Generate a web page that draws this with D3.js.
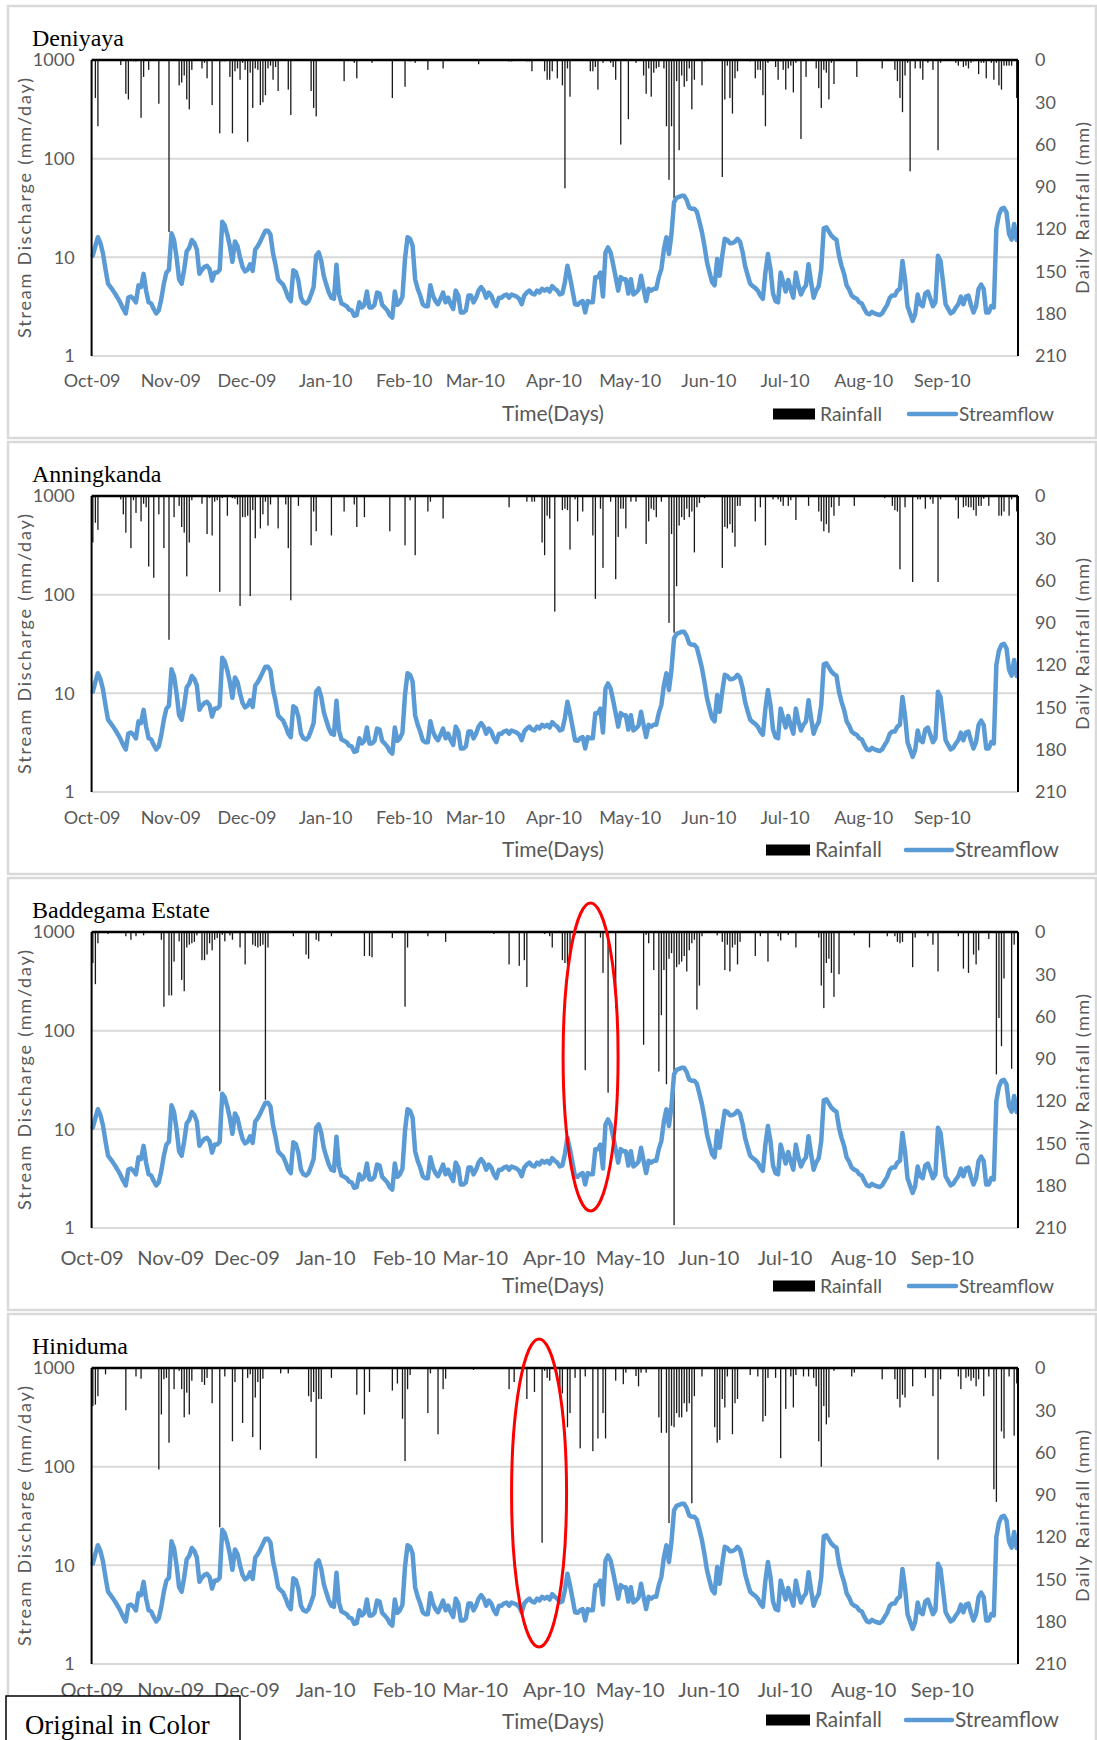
<!DOCTYPE html>
<html>
<head>
<meta charset="utf-8">
<script src="https://cdn.jsdelivr.net/npm/d3@7"></script>
<style>
  body { margin: 0; background: #fff; }
  svg { display: block; }
</style>
</head>
<body>
<svg id="chart" width="1097" height="1740"></svg>
<script>
// ---- data ---------------------------------------------------------------
const stations = ["Deniyaya", "Anningkanda", "Baddegama Estate", "Hiniduma"];
const monthLabels = ["Oct-09","Nov-09","Dec-09","Jan-10","Feb-10","Mar-10","Apr-10","May-10","Jun-10","Jul-10","Aug-10","Sep-10"];
const flowTicks = [1, 10, 100, 1000];
const rainTicks = [0, 30, 60, 90, 120, 150, 180, 210];

// daily stream discharge (mm/day), 1 Oct 2009 - 30 Sep 2010
const streamflow = [
  10.4,13,16,14,11,7.6,5.4,5.0,4.6,4.2,3.8,3.4,3.0,2.7,3.9,4.0,3.8,3.5,5.2,5.0,
  6.8,4.6,3.5,3.4,3.0,2.7,2.9,3.8,5.4,7.0,7.5,17.5,15,10,6.0,5.4,7.5,11.5,12.5,15,
  14,12,6.8,7.5,8.0,8.2,7.6,5.8,7.0,7.0,7.5,23,21,17,13,9,14.5,13,10,8,
  7.2,7.5,8.5,7.3,12,13,14.5,16.5,18.6,18.6,17,11,8.4,6.0,5.6,5.3,4.6,3.9,3.6,7.4,
  7.1,5.8,3.9,3.5,3.4,3.6,4.2,5.0,10.4,11.2,9.2,6.5,5.3,4.4,3.9,3.8,8.4,4.2,3.4,3.3,
  3.2,2.95,2.9,2.55,2.6,3.5,3.1,3.3,4.5,3.1,3.1,3.3,4.4,4.3,3.3,3.1,2.9,2.6,2.45,4.5,
  3.3,3.5,4.0,9.6,16,15.4,13.1,6.0,4.8,4.1,3.35,3.2,3.2,5.2,4.1,3.6,3.35,3.8,4.4,3.5,
  3.9,3.35,3.0,4.6,4.1,2.76,2.76,2.9,4.1,4.1,3.5,3.9,4.6,5.0,4.6,3.9,4.4,4.1,3.5,3.2,
  3.9,3.9,4.1,4.2,3.9,4.2,4.1,4.0,3.8,3.35,4.1,4.4,4.6,4.3,4.2,4.6,4.4,4.8,4.6,4.8,
  4.5,5.1,4.8,4.6,4.2,4.3,5.6,8.2,6.3,4.6,3.35,3.3,3.5,3.6,2.76,3.6,3.5,3.5,6.3,6.3,
  7.0,4.0,11.2,12.6,11.2,8.5,6.3,4.6,6.3,6.0,6.0,4.3,6.0,4.2,4.4,4.7,6.5,4.8,3.6,4.8,
  4.6,4.8,4.8,6.3,7.6,12,16,10.8,17.3,36,40,41,42,42,38,32,31,31,29,23,
  18,13,8.9,7.0,5.6,5.2,9.6,6.5,10.4,15.4,15,13.9,14,14.4,15.4,14.4,11.4,8.2,6.6,5.4,
  5.1,4.9,4.6,4.1,3.8,7.0,10.8,7.6,4.3,3.6,3.5,7.0,5.6,4.5,5.9,4.7,3.9,7.0,5.2,4.2,
  4.8,5.2,8.5,5.6,3.9,4.6,5.1,7.6,19.7,20.2,18.3,16.6,15.7,15.1,10.4,8.2,6.8,5.2,4.7,4.1,
  3.9,3.8,3.5,3.4,3.0,2.7,2.65,2.8,2.7,2.65,2.6,2.7,3.0,3.3,3.9,4.1,4.1,4.6,4.8,9.2,
  6.0,3.2,2.7,2.27,2.65,4.2,3.35,3.2,4.3,4.5,3.8,3.2,3.5,10.4,9.2,5.6,3.35,3.0,2.7,2.8,
  3.1,3.35,4.0,3.35,4.0,4.1,3.3,2.76,3.2,4.8,5.3,4.8,2.76,2.76,3.2,3.1,19.4,26.9,31,31.7,
  28.6,17.3,15.1,21.8,15
];

// daily rainfall (mm) as [day index from 1 Oct 2009, amount]; other days are dry
const rainDeniyaya = [
  [1,27],[2,47],[11,3.6],[13,24],[14,28],[16,1],[17,1],[19,41],[20,12],[22,7],[26,31],[30,122],
  [34,18],[35,16],[36,11],[37,28],[38,35],[39,7],[43,6],[44,2],[45,13],[47,32],[50,52],[51,1],
  [52,1],[54,12],[55,52],[56,8],[57,6],[58,14],[59,2],[60,7],[61,58],[62,9],[63,34],[64,6],
  [65,7],[66,32],[67,30],[68,25],[69,6],[70,4],[71,14],[72,5],[73,22],[77,21],[78,39],[86,22],
  [87,34],[88,40],[99,15],[103,2],[104,13],[110,2],[118,27],[123,19],[125,1],[127,2],[132,7],
  [138,6],[152,3],[164,1],[165,1],[171,1],[172,1],[173,8],[178,8],[179,14],[180,14],[181,8],
  [183,13],[185,18],[186,91],[187,6],[188,26],[196,8],[197,8],[198,5],[199,21],[201,2],[204,2],
  [205,5],[206,14],[208,60],[211,42],[214,2],[217,11],[218,24],[219,6],[220,26],[221,9],[222,6],
  [223,5],[225,6],[226,47],[227,85],[228,47],[229,98],[230,15],[231,64],[232,11],[233,19],
  [234,15],[235,6],[236,35],[237,14],[240,18],[241,1],[248,83],[249,28],[250,4],[251,27],
  [252,38],[253,13],[254,8],[259,1],[261,13],[262,7],[263,7],[264,25],[265,47],[266,2],[269,5],
  [270,14],[271,1],[272,7],[273,21],[274,6],[275,4],[276,23],[277,2],[279,56],[281,12],[285,6],
  [286,20],[287,34],[288,7],[289,9],[290,28],[291,2],[292,17],[301,12],[311,6],[316,7],[317,15],
  [318,27],[319,37],[320,11],[321,2],[322,79],[324,6],[326,6],[327,14],[329,2],[331,7],[333,64],
  [334,2],[340,2],[341,4],[342,1],[343,5],[344,4],[345,6],[346,2],[347,1],[349,10],[350,2],
  [351,2],[352,13],[354,2],[355,14],[356,2],[357,18],[358,21],[359,4],[360,4],[361,4],[362,4],
  [364,27]
];
const rainAnningkanda = [
  [0,33],[1,19],[2,24],[11,2.4],[12,13],[13,26],[15,37],[16,3],[17,12],[19,18],[20,5.5],[21,8],
  [22,50],[24,58],[26,13],[28,37],[30,102],[32,15],[34,7],[35,22],[36,26],[37,57],[38,33],[39,3],
  [43,5.5],[45,27],[46,1.5],[47,28],[48,4],[49,3],[50,68],[51,1.5],[53,14],[55,1.5],[56,2],
  [57,6],[58,78],[59,15],[60,15],[61,14],[62,71],[63,10],[64,30],[66,23],[67,13],[68,4],[69,21],
  [70,6],[73,23],[76,6],[77,37],[78,74],[81,7],[86,35],[87,11],[88,25],[94,28],[99,11],[103,6],
  [104,22],[107,15],[117,25],[123,35],[125,3],[127,42],[132,11],[133,4],[138,16],[164,8],[171,4],
  [173,4],[174,4],[177,33],[178,42],[179,14],[180,16],[182,82],[185,10],[186,9],[187,10],
  [188,38],[190,2.4],[191,18],[193,11],[197,28],[198,73],[200,9],[201,51],[204,4],[206,59],
  [207,29],[208,9],[209,9],[210,23],[212,4],[214,4],[218,34],[219,18],[220,9],[221,10],[222,15],
  [224,4],[227,90],[228,27],[229,97],[230,64],[231,21],[232,15],[233,17],[234,9],[235,15],
  [236,11],[237,40],[238,8],[239,5],[241,1.5],[248,51],[249,22],[250,23],[251,20],[252,26],
  [253,36],[254,7],[255,7],[261,18],[263,8],[265,35],[268,2.4],[270,2.4],[271,4],[272,7],[274,7],
  [275,3],[277,17],[282,7],[286,11],[287,18],[288,25],[289,20],[290,26],[291,8],[292,14],[294,7],
  [300,7],[312,1.5],[315,7],[316,10],[317,11],[318,52],[320,8],[323,61],[325,2.4],[326,2.4],
  [328,9],[330,2.4],[331,5.5],[333,61],[334,2.4],[340,3],[341,16],[343,8],[344,7],[345,8],
  [346,8],[347,10],[348,14],[349,7],[350,7],[351,2],[353,7],[357,14],[358,14],[359,11],[361,14],
  [362,2.4],[364,11]
];
const rainBaddegama = [
  [0,22],[1,37],[2,8],[6,1.4],[13,3],[15,5.5],[17,3],[20,2.4],[27,5.5],[28,53],[30,45],[31,45],
  [32,21],[34,6.6],[35,34],[36,42],[37,11],[38,9],[39,8],[40,7],[41,2.4],[43,20],[44,20],[45,16],
  [46,8],[47,13],[48,5.5],[49,4.3],[50,113],[51,2],[52,6.6],[54,2.4],[55,5.5],[58,11],[60,23],
  [63,9],[64,10],[65,11],[66,10],[67,9],[68,119],[69,11],[79,3],[84,16],[85,19],[88,5.5],
  [89,6.6],[94,3],[107,17],[109,17],[110,18],[118,4.3],[123,53],[124,11],[132,3],[139,7],
  [158,1.4],[164,23],[168,24],[170,20],[171,39],[178,1.4],[180,3],[181,11],[185,20],[186,22],
  [187,23],[188,16],[190,2],[194,98],[200,4],[201,29],[203,114],[206,54],[217,80],[218,2],
  [219,8],[221,27],[223,99],[224,59],[225,27],[226,108],[227,19],[228,15],[229,208],[230,25],
  [231,23],[232,21],[233,17],[234,28],[235,13],[236,8],[237,5.5],[238,55],[239,38],[240,3],
  [246,2.4],[248,7],[249,27],[250,9],[251,28],[252,11],[253,9],[254,23],[255,7],[261,17],[263,3],
  [266,21],[270,3],[271,6],[274,2],[277,11],[286,4],[287,38],[288,54],[289,22],[290,19],[291,29],
  [292,46],[294,30],[300,2.4],[306,11],[313,3],[316,3],[317,7],[318,8],[319,7],[323,25],[324,4],
  [329,3],[331,9],[333,28],[341,3],[343,26],[345,29],[347,16],[348,23],[349,13],[353,5],
  [356,101],[357,61],[358,81],[359,33],[362,97],[363,9]
];
const rainHiniduma = [
  [0,27],[1,26],[2,20],[5,4.5],[13,30],[17,6],[19,7.6],[26,72],[27,33],[28,8],[29,7],[30,53],
  [32,15],[34,2],[35,15],[36,35],[37,17.5],[38,33],[39,9],[43,10],[44,12],[45,7],[47,25],
  [50,113],[52,6],[55,52],[56,10],[59,39],[61,7],[62,4.5],[63,49],[64,21],[65,10],[66,58],
  [67,7.6],[74,3.8],[77,3.8],[85,20],[86,24],[87,17],[88,64],[89,22],[90,22],[94,7],[104,19],
  [107,33],[109,17],[118,16],[120,11],[122,36],[123,66],[124,15],[125,5],[132,32],[133,3.8],
  [136,47],[138,15],[139,7.6],[150,1.4],[164,15],[166,10],[171,22],[174,17],[177,124],[178,2],
  [179,7],[180,9],[184,20],[185,18],[187,42],[188,32],[190,7],[192,57],[194,6],[197,59],[199,50],
  [201,32],[202,50],[206,9],[209,11.5],[210,3.3],[214,5.7],[215,13],[216,3.3],[218,3.3],[223,35],
  [224,46],[226,46],[227,110],[228,41],[229,42],[230,32],[231,35],[232,35],[233,25],[234,31],
  [235,25],[236,96],[237,20],[240,6],[245,42],[246,53],[247,51],[248,22],[249,28],[250,6],
  [252,47],[253,25],[254,22],[259,5],[262,6],[264,38],[265,34],[266,7],[269,7],[271,64],[273,29],
  [275,6],[276,28],[277,5],[280,6],[282,6],[284,7],[285,13],[286,52],[287,70],[288,27],[289,40],
  [290,35],[292,2],[299,6],[300,3.3],[311,8],[316,8],[317,22],[318,28],[319,19],[320,21],[323,13],
  [328,7],[331,20],[333,65],[334,8],[341,6],[342,15],[344,7],[345,6],[346,9],[347,7],[348,13],
  [349,8],[351,20],[353,6],[355,86],[356,95],[358,45],[359,50],[361,6],[363,48],[364,11]
];
const rainSeries = [rainDeniyaya, rainAnningkanda, rainBaddegama, rainHiniduma];

// ---- layout -------------------------------------------------------------
const W = 1097;
const plotLeft = 91.6, plotRight = 1018, plotH = 296, panelStep = 436, firstTop = 60;
const tickLabelOffset = [25, 25.6, 30, 26];
const monthFont = [18, 18, 20, 20];
const legendRow = [354, 354, 354, 352];
const legendWide = [false, true, false, true];
const sans = "Lato, 'Open Sans', sans-serif";
const serif = "'Liberation Serif', 'DejaVu Serif', serif";
const grey = "#595959";
const flowColor = "#5B9BD5";

const svg = d3.select("#chart");
svg.append("rect").attr("width", W).attr("height", 1740).attr("fill", "#fff");

const start = new Date(Date.UTC(2009, 9, 1));
const end = new Date(Date.UTC(2010, 9, 1));
const dayDate = i => d3.utcDay.offset(start, i);
const months = d3.utcMonth.range(start, end);

const x = d3.scaleUtc().domain([start, end]).range([plotLeft, plotRight]);

// size a text element so its rendered width matches a target
function fitWidth(sel, target) {
  const node = sel.node();
  const fs = parseFloat(sel.attr("font-size"));
  const w = node.getComputedTextLength();
  if (w > 0) sel.attr("font-size", (fs * target / w).toFixed(2));
  return sel;
}

stations.forEach((name, i) => {
  const top = firstTop + i * panelStep;
  const bottom = top + plotH;
  const g = svg.append("g");

  // panel frame
  g.append("rect")
    .attr("x", 8).attr("y", top - 54).attr("width", W - 9).attr("height", 432)
    .attr("fill", "none").attr("stroke", "#d9d9d9").attr("stroke-width", 2.5);

  const yFlow = d3.scaleLog().domain([1, 1000]).range([bottom, top]);
  const yRain = d3.scaleLinear().domain([0, 210]).range([top, bottom]);

  // horizontal gridlines on the discharge axis
  g.selectAll(".grid").data(flowTicks.slice(0, 3)).join("line")
    .attr("x1", plotLeft).attr("x2", plotRight)
    .attr("y1", d => yFlow(d)).attr("y2", d => yFlow(d))
    .attr("stroke", "#d9d9d9").attr("stroke-width", 2);

  // rainfall bars hanging from the top axis
  g.append("g").selectAll("rect").data(rainSeries[i]).join("rect")
    .attr("x", d => x(dayDate(d[0])) + 0.6)
    .attr("y", top)
    .attr("width", 1.3)
    .attr("height", d => yRain(d[1]) - top)
    .attr("fill", "#1a1a1a");

  // streamflow line
  const line = d3.line()
    .x((d, k) => x(dayDate(k)) + 1.2)
    .y(d => yFlow(d));
  g.append("path").datum(streamflow)
    .attr("d", line)
    .attr("fill", "none").attr("stroke", flowColor)
    .attr("stroke-width", 4.5).attr("stroke-linejoin", "round").attr("stroke-linecap", "round");

  // axis lines
  g.append("line").attr("x1", plotLeft).attr("x2", plotRight).attr("y1", top).attr("y2", top)
    .attr("stroke", "#000").attr("stroke-width", 2.5);
  g.append("line").attr("x1", plotLeft).attr("x2", plotLeft).attr("y1", top).attr("y2", bottom)
    .attr("stroke", "#000").attr("stroke-width", 2);
  g.append("line").attr("x1", plotRight).attr("x2", plotRight).attr("y1", top).attr("y2", bottom)
    .attr("stroke", "#000").attr("stroke-width", 2);

  // left axis (log discharge)
  const axL = g.append("g").attr("transform", `translate(${plotLeft},0)`)
    .call(d3.axisLeft(yFlow).tickValues(flowTicks).tickFormat(d3.format("d")).tickSize(0).tickPadding(17));
  axL.select(".domain").remove();
  axL.selectAll("text").attr("font-family", sans).attr("font-size", 18).attr("fill", grey);

  // right axis (rainfall, inverted)
  const axR = g.append("g").attr("transform", `translate(${plotRight},0)`)
    .call(d3.axisRight(yRain).tickValues(rainTicks).tickSize(0).tickPadding(17));
  axR.select(".domain").remove();
  axR.selectAll("text").attr("font-family", sans).attr("font-size", 18).attr("fill", grey);

  // month labels
  const axB = g.append("g").attr("transform", `translate(0,${bottom})`)
    .call(d3.axisBottom(x).tickValues(months).tickFormat((d, k) => monthLabels[k]).tickSize(0).tickPadding(0));
  axB.select(".domain").remove();
  axB.selectAll("text")
    .attr("y", tickLabelOffset[i]).attr("dy", "0.35em")
    .attr("font-family", sans).attr("font-size", monthFont[i]).attr("fill", grey);

  // station name
  g.append("text").attr("x", 32).attr("y", top - 14)
    .attr("font-family", serif).attr("font-size", 24).attr("fill", "#000").text(name);

  // axis titles
  const midY = (top + bottom) / 2;
  g.append("text")
    .attr("transform", `translate(24.5,${midY}) rotate(-90)`)
    .attr("text-anchor", "middle").attr("dy", "0.35em")
    .attr("font-family", sans).attr("font-size", 18).attr("fill", grey)
    .attr("textLength", 260).attr("lengthAdjust", "spacing")
    .text("Stream Discharge (mm/day)");
  g.append("text")
    .attr("transform", `translate(1083,${midY}) rotate(-90)`)
    .attr("text-anchor", "middle").attr("dy", "0.35em")
    .attr("font-family", sans).attr("font-size", 18).attr("fill", grey)
    .attr("textLength", 172).attr("lengthAdjust", "spacing")
    .text("Daily Rainfall (mm)");

  // x axis title
  fitWidth(g.append("text").attr("x", 553).attr("y", top + 354).attr("dy", "0.35em")
    .attr("text-anchor", "middle").attr("font-family", sans).attr("font-size", 20)
    .attr("fill", grey).text("Time(Days)"), 102);

  // legend
  const ly = top + legendRow[i];
  const L = legendWide[i]
    ? { sw0: 766, sw1: 810, t1: 815, w1: 67, l0: 906, l1: 952, t2: 955, w2: 104 }
    : { sw0: 773, sw1: 815, t1: 820, w1: 62, l0: 909, l1: 956, t2: 959, w2: 95 };
  g.append("rect").attr("x", L.sw0).attr("y", ly - 5.5).attr("width", L.sw1 - L.sw0).attr("height", 11)
    .attr("fill", "#000");
  fitWidth(g.append("text").attr("x", L.t1).attr("y", ly).attr("dy", "0.35em")
    .attr("font-family", sans).attr("font-size", 19).attr("fill", grey).text("Rainfall"), L.w1);
  g.append("line").attr("x1", L.l0).attr("x2", L.l1).attr("y1", ly).attr("y2", ly)
    .attr("stroke", flowColor).attr("stroke-width", 4.5).attr("stroke-linecap", "round");
  fitWidth(g.append("text").attr("x", L.t2).attr("y", ly).attr("dy", "0.35em")
    .attr("font-family", sans).attr("font-size", 19).attr("fill", grey).text("Streamflow"), L.w2);
});

// highlighted rainfall events
const marks = [
  { panel: 2, day: 196.6 },
  { panel: 3, day: 176.3 }
];
marks.forEach(m => {
  const top = firstTop + m.panel * panelStep;
  svg.append("ellipse")
    .attr("cx", x(dayDate(0)) + m.day * (plotRight - plotLeft) / 365)
    .attr("cy", top + 125)
    .attr("rx", 27.5).attr("ry", 154)
    .attr("fill", "none").attr("stroke", "#ff0000").attr("stroke-width", 3);
});

// note box
svg.append("rect").attr("x", 6).attr("y", 1696).attr("width", 234).attr("height", 60)
  .attr("fill", "#fff").attr("stroke", "#000").attr("stroke-width", 1.5);
svg.append("text").attr("x", 25).attr("y", 1734)
  .attr("font-family", serif).attr("font-size", 26.8).attr("fill", "#000").text("Original in Color");
</script>
</body>
</html>
